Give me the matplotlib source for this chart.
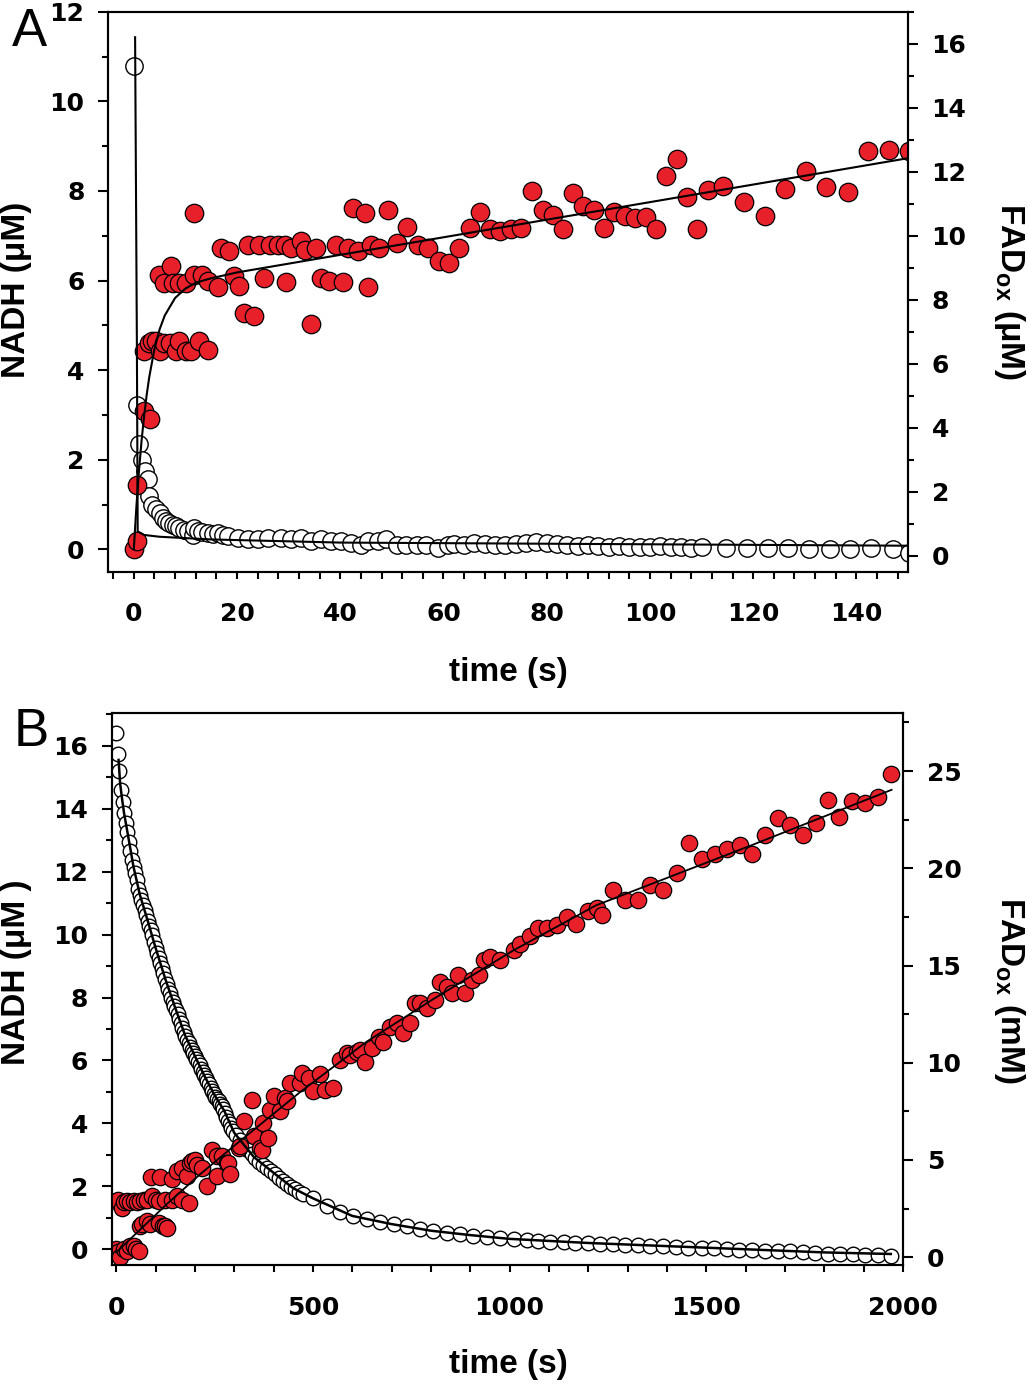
import matplotlib
matplotlib.use("Agg")
import matplotlib.pyplot as plt
from matplotlib.ticker import MultipleLocator

plt.rcParams["font.family"] = ["Liberation Sans", "DejaVu Sans"]
plt.rcParams["mathtext.fontset"] = "custom"
plt.rcParams["mathtext.bf"] = "Liberation Sans:bold"
plt.rcParams["mathtext.rm"] = "Liberation Sans:bold"

RED = "#e8202a"

# ---------------- panel A data (time in s, NADH in uM) ----------------
a_red_t = [0.0, 0.7, 0.7, 1.9, 3.2,
           2.0, 3.0, 3.6, 4.3, 5.0, 5.9, 7.0, 8.2, 8.8, 10.1, 11.1, 12.7, 14.3,
           4.9, 5.9, 7.2, 7.5, 8.8, 10.1, 11.7, 11.7, 13.3, 14.3, 16.3, 16.9, 18.5,
           19.5, 20.4, 21.4, 23.3, 22.1, 24.3, 25.3, 26.3, 27.9, 29.2, 29.5, 30.5,
           32.4, 33.1, 34.4, 35.3, 36.3, 37.9, 39.2, 40.5, 41.5, 42.5, 43.4, 44.7,
           45.4, 46.0, 47.6, 49.3, 50.9, 53.0, 55.1, 57.0, 59.1, 61.1, 63.0, 65.1,
           67.1, 69.0, 70.9, 73.0, 75.1, 77.1, 79.2, 81.2, 83.1, 85.0, 87.1, 89.2,
           91.1, 93.1, 95.1, 97.1, 99.2, 101.2, 103.2, 105.2, 107.2, 109.1, 111.2,
           114.2, 118.2, 122.3, 126.2, 130.3, 134.2, 138.3, 142.3, 146.3, 150.2]
a_red_v = [0.0, 0.18, 1.44, 3.08, 2.90,
           4.42, 4.60, 4.64, 4.64, 4.42, 4.60, 4.60, 4.42, 4.64, 4.42, 4.42, 4.64, 4.44,
           6.13, 5.94, 6.32, 5.94, 5.94, 5.94, 6.13, 7.51, 6.13, 5.98, 5.85, 6.73, 6.65,
           6.09, 5.87, 5.27, 5.20, 6.80, 6.80, 6.06, 6.80, 6.80, 6.80, 5.97, 6.73,
           6.88, 6.69, 5.02, 6.73, 6.06, 5.98, 6.80, 5.97, 6.73, 7.62, 6.65, 7.51,
           5.86, 6.80, 6.73, 7.58, 6.84, 7.19, 6.79, 6.73, 6.43, 6.38, 6.73, 7.17,
           7.52, 7.14, 7.10, 7.14, 7.17, 7.99, 7.58, 7.47, 7.14, 7.95, 7.66, 7.57,
           7.17, 7.54, 7.43, 7.40, 7.41, 7.14, 8.33, 8.72, 7.86, 7.14, 8.01,
           8.10, 7.75, 7.45, 8.05, 8.44, 8.08, 7.97, 8.90, 8.92, 8.90]

a_open_t = [0.0, 0.6, 1.0, 1.5, 2.1, 2.7, 3.0, 3.6, 4.3, 5.0, 5.6, 6.3, 6.9, 7.5,
            8.2, 8.8, 9.8, 10.5, 11.4, 11.7, 12.5, 13.3, 14.3, 15.3, 16.3, 17.3,
            18.2, 20.1, 22.1, 24.0, 26.0, 28.5, 30.5, 32.4, 34.4, 36.3, 38.3, 40.2,
            42.1, 44.1, 45.4, 47.3, 48.9, 50.9, 52.8, 54.8, 56.7, 59.0, 60.9,
            62, 64, 66, 68, 70, 72, 74, 76, 78, 80, 82, 84, 86, 88, 90, 92, 94, 96,
            98, 100, 102, 104, 106, 108, 110,
            114.8, 118.8, 122.9, 126.8, 130.9, 134.9, 138.8, 142.9, 147.0, 150.1]
a_open_v = [10.78, 3.23, 2.34, 2.00, 1.75, 1.56, 1.18, 1.00, 0.89, 0.80, 0.70, 0.64,
            0.59, 0.55, 0.51, 0.48, 0.44, 0.40, 0.33, 0.48, 0.40, 0.38, 0.36, 0.34,
            0.36, 0.31, 0.29, 0.25, 0.22, 0.22, 0.25, 0.25, 0.22, 0.25, 0.18, 0.22,
            0.18, 0.18, 0.14, 0.10, 0.18, 0.18, 0.22, 0.10, 0.10, 0.10, 0.10, 0.03,
            0.10, 0.12, 0.10, 0.14, 0.12, 0.10, 0.10, 0.12, 0.14, 0.16, 0.14, 0.12,
            0.10, 0.08, 0.10, 0.08, 0.06, 0.08, 0.06, 0.05, 0.06, 0.08, 0.06, 0.05,
            0.04, 0.06, 0.04, 0.03, 0.02, 0.02, 0.00, 0.00, 0.00, 0.02, 0.00, -0.08]

# fitted curves
a_red_fit_t = [0.0, 0.5, 1.0, 1.5, 2.0, 2.5, 3.0, 4.0, 5.0, 6.0, 8.0, 10.0, 12.0,
               15.0, 20.0, 150.0]
a_red_fit_v = [0.0, 0.95, 1.75, 2.42, 2.98, 3.45, 3.85, 4.47, 4.91, 5.22, 5.61,
               5.82, 5.95, 6.05, 6.18, 8.73]
a_open_fit_t = [0.25, 0.6, 0.75, 2.0, 5.0, 15.0, 40.0, 150.0]
a_open_fit_v = [11.43, 4.5, 0.4, 0.32, 0.28, 0.22, 0.15, 0.08]

# ---------------- panel B data (time in s, NADH in uM) ----------------
b_red_t = [0, 5, 10, 20, 27, 35, 44, 50, 57,
           0, 5, 14.5, 20, 27, 35, 44, 52, 61, 70, 78, 91, 100, 107.5, 124.5,
           141.5, 154, 167, 184,
           61, 65, 78, 86, 107.5, 120, 124.5, 129,
           88, 112,
           141.5, 154, 167, 180, 188, 192, 201, 205, 218, 230, 243, 256, 256, 269,
           281, 285, 290, 311, 315, 324, 345, 349, 366, 370, 374, 387, 391, 400,
           417, 429, 434, 442, 468, 472, 489, 501, 518, 531, 552, 569, 586, 595,
           612, 620, 633, 650, 667, 679, 696, 713, 730, 747, 760, 773, 790, 811,
           823, 840, 853, 870, 887, 904, 921, 934, 950, 976, 1010,
           1027, 1052, 1073, 1095, 1120, 1145, 1170, 1200, 1222,
           1234, 1264, 1294, 1327, 1357, 1391, 1425, 1456, 1488, 1522, 1552, 1586,
           1617, 1649, 1683, 1713, 1747, 1779, 1809, 1838, 1871, 1903, 1937, 1969]
b_red_v = [0.0, -0.10, -0.26, 0.0, -0.05, 0.10, 0.10, 0.0, -0.05,
           1.53, 1.55, 1.32, 1.50, 1.53, 1.50, 1.53, 1.50, 1.53, 1.55, 1.58, 1.69,
           1.55, 1.53, 1.58, 1.58, 1.69, 1.58, 1.48,
           0.74, 0.79, 0.90, 0.79, 0.85, 0.74, 0.74, 0.69,
           2.30, 2.30,
           2.22, 2.48, 2.59, 2.32, 2.75, 2.80, 2.85, 2.69, 2.59, 2.01, 3.17, 2.32,
           2.96, 2.96, 2.75, 2.75, 2.38, 3.22, 3.27, 4.07, 4.75, 3.59, 3.22, 3.17,
           4.01, 3.54, 4.44, 4.86, 4.38, 4.81, 4.70, 5.28, 5.28, 5.60, 5.44, 5.02,
           5.57, 5.07, 5.12, 6.02, 6.23, 6.18, 6.28, 6.34, 5.95, 6.39, 6.76, 6.58,
           7.05, 7.18, 6.87, 7.18, 7.82, 7.82, 7.68, 7.92, 8.50, 8.34, 8.13, 8.71,
           8.13, 8.56, 8.71, 9.19, 9.29, 9.19, 9.51,
           9.70, 9.95, 10.20, 10.20, 10.30, 10.55, 10.35, 10.75, 10.85,
           10.61, 11.41, 11.09, 11.11, 11.57, 11.43, 11.96, 12.91, 12.41, 12.55,
           12.71, 12.86, 12.55, 13.15, 13.71, 13.47, 13.15, 13.54, 14.28, 13.75,
           14.24, 14.17, 14.36, 15.10]

b_open_t = [0, 4, 8, 12, 16, 20, 24, 28, 32, 36, 40, 44, 48, 52, 56, 60, 64, 68,
            72, 76, 80, 84, 88, 92, 96, 100, 104, 108, 112, 116, 120, 124, 128,
            132, 136, 140, 144, 148, 152, 156, 160, 164, 168, 172, 176, 180, 184,
            188, 192, 196, 200, 204, 208, 212, 216, 220, 224, 228, 232, 236, 240,
            244, 248, 252, 256, 260, 264, 268, 272, 276, 280, 284, 288, 292, 296,
            304, 314, 324, 334, 344, 354, 364, 374, 384, 394, 404, 414, 424, 434,
            444, 454, 464,
            476, 501, 535, 569, 603, 637, 671, 705, 739, 773, 806, 840, 874, 908,
            942, 976, 1010, 1044, 1073, 1103, 1137, 1166, 1200, 1230, 1264, 1293,
            1327, 1357, 1391, 1423, 1454, 1488, 1520, 1552, 1584, 1615, 1649, 1681,
            1713, 1745, 1777, 1810, 1840, 1872, 1903, 1937, 1969]
b_open_v = [16.42, 15.75, 15.20, 14.60, 14.20, 13.85, 13.55, 13.25, 12.95, 12.65,
            12.36, 12.15, 11.95, 11.74, 11.45, 11.27, 11.10, 10.95, 10.78, 10.62,
            10.44, 10.28, 10.13, 9.98, 9.75, 9.58, 9.42, 9.27, 9.10, 8.94, 8.78,
            8.60, 8.44, 8.27, 8.14, 8.00, 7.87, 7.74, 7.60, 7.46, 7.33, 7.18, 7.03,
            6.89, 6.77, 6.66, 6.54, 6.44, 6.34, 6.24, 6.14, 6.04, 5.94, 5.84, 5.74,
            5.64, 5.54, 5.44, 5.34, 5.24, 5.14, 5.04, 4.94, 4.85, 4.77, 4.70, 4.62,
            4.55, 4.45, 4.33, 4.20, 4.08, 3.97, 3.86, 3.75,
            3.62, 3.47, 3.30, 3.15, 3.03, 2.90, 2.77, 2.67, 2.58, 2.49, 2.39, 2.28,
            2.17, 2.06, 1.98, 1.90, 1.83,
            1.76, 1.62, 1.39, 1.20, 1.05, 0.95, 0.88, 0.79, 0.73, 0.64, 0.58, 0.53,
            0.48, 0.43, 0.40, 0.36, 0.32, 0.30, 0.26, 0.24, 0.23, 0.21, 0.20, 0.18,
            0.16, 0.14, 0.13, 0.11, 0.10, 0.07, 0.05, 0.05, 0.03, 0.01, -0.01,
            -0.02, -0.04, -0.04, -0.07, -0.09, -0.12, -0.14, -0.15, -0.16, -0.17,
            -0.19, -0.22]

b_red_fit_t = [0, 130, 213, 298, 468, 637, 806, 1010, 1220, 1603, 1971]
b_red_fit_v = [-0.10, 1.45, 2.38, 3.27, 5.00, 6.60, 7.95, 9.50, 10.93, 12.78, 14.60]
b_open_fit_t = [6, 10, 15, 20, 30, 44, 60, 80, 100, 125, 150, 175, 200, 225, 250,
                275, 300, 350, 400, 450, 500, 600, 700, 800, 900, 1000, 1200, 1400,
                1600, 1800, 1969]
b_open_fit_v = [15.55, 14.79, 14.30, 13.85, 13.15, 12.15, 11.27, 10.44, 9.58, 8.58,
                7.67, 6.80, 6.14, 5.49, 4.90, 4.39, 3.70, 2.93, 2.43, 1.94, 1.62,
                1.06, 0.80, 0.59, 0.45, 0.33, 0.20, 0.10, 0.0, -0.10, -0.15]

W, H = 1028, 1385
TICK_FONT = dict(family="DejaVu Sans", weight="bold", size=18)


def rect(x0, y0, x1, y1):
    return [x0 / W, 1 - y1 / H, (x1 - x0) / W, (y1 - y0) / H]


def fpos(x, y):
    return x / W, 1 - y / H


def style_axes(ax, ax2):
    for a in (ax, ax2):
        for s in a.spines.values():
            s.set_linewidth(1.5)
    ax.tick_params(axis="y", which="major", direction="out", length=7, width=1.5,
                   pad=10)
    ax.tick_params(axis="y", which="minor", direction="out", length=4.5, width=1.5)
    ax.tick_params(axis="x", which="both", direction="out", length=5, width=1.5,
                   pad=17)
    ax2.tick_params(axis="y", which="major", direction="out", length=7, width=1.5,
                    pad=10)
    ax2.tick_params(axis="y", which="minor", direction="out", length=4.5, width=1.5)
    for lab in ax.get_xticklabels() + ax.get_yticklabels() + ax2.get_yticklabels():
        lab.set_fontproperties(TICK_FONT)


fig = plt.figure(figsize=(W / 100, H / 100), dpi=100)

# ---------------- panel A ----------------
axA = fig.add_axes(rect(108, 11.7, 908, 571.7))
axA.plot(a_open_t, a_open_v, "o", ms=12.5, mfc="white", mec="black", mew=1.0,
         zorder=2)
axA.plot(a_red_t, a_red_v, "o", ms=13.3, mfc=RED, mec="black", mew=0.9, zorder=3)
axA.plot(a_red_fit_t, a_red_fit_v, "-", color="black", lw=1.5, zorder=4)
axA.plot(a_open_fit_t, a_open_fit_v, "-", color="black", lw=1.5, zorder=4)
axA.set_xlim(-5, 150)
axA.set_ylim(-0.5, 12)
axA.xaxis.set_major_locator(MultipleLocator(20))
axA.xaxis.set_minor_locator(MultipleLocator(4))
axA.yaxis.set_major_locator(MultipleLocator(2))
axA.yaxis.set_minor_locator(MultipleLocator(1))
axA2 = axA.twinx()
axA2.set_ylim(-0.5, 17)
axA2.yaxis.set_major_locator(MultipleLocator(2))
axA2.yaxis.set_minor_locator(MultipleLocator(1))
style_axes(axA, axA2)

# ---------------- panel B ----------------
axB = fig.add_axes(rect(111.5, 712.7, 903, 1265))
axB.plot(b_open_t, b_open_v, "o", ms=10.5, mfc="white", mec="black", mew=1.0,
         zorder=2)
axB.plot(b_red_t, b_red_v, "o", ms=11.8, mfc=RED, mec="black", mew=0.9, zorder=3)
axB.plot(b_red_fit_t, b_red_fit_v, "-", color="black", lw=1.3, zorder=4)
axB.plot(b_open_fit_t, b_open_fit_v, "-", color="black", lw=1.8, zorder=4)
axB.set_xlim(-12, 2000)
axB.set_ylim(-0.5, 17.05)
axB.xaxis.set_major_locator(MultipleLocator(500))
axB.xaxis.set_minor_locator(MultipleLocator(100))
axB.yaxis.set_major_locator(MultipleLocator(2))
axB.yaxis.set_minor_locator(MultipleLocator(1))
axB2 = axB.twinx()
axB2.set_ylim(-0.4, 28)
axB2.yaxis.set_major_locator(MultipleLocator(5))
axB2.yaxis.set_minor_locator(MultipleLocator(2.5))
style_axes(axB, axB2)

# ---------------- labels ----------------
lab = dict(fontsize=24, fontweight="bold", ha="center", va="center")
fig.text(*fpos(508, 672), "time (s)", **lab)
fig.text(*fpos(17, 290), "NADH (\u03bcM)", rotation=90, **lab)
fig.text(*fpos(1010, 292), "FAD$_{\\mathbf{ox}}$ (\u03bcM)", rotation=270, **lab)
fig.text(*fpos(508, 1365), "time (s)", **lab)
fig.text(*fpos(17, 972), "NADH (\u03bcM )", rotation=90, **lab)
fig.text(*fpos(1010, 990), "FAD$_{\\mathbf{ox}}$ (mM)", rotation=270, **lab)

fig.text(*fpos(29, 32), "A", fontsize=38, ha="center", va="center")
fig.text(*fpos(31, 732), "B", fontsize=38, ha="center", va="center")

fig.savefig("out.png", dpi=100)
